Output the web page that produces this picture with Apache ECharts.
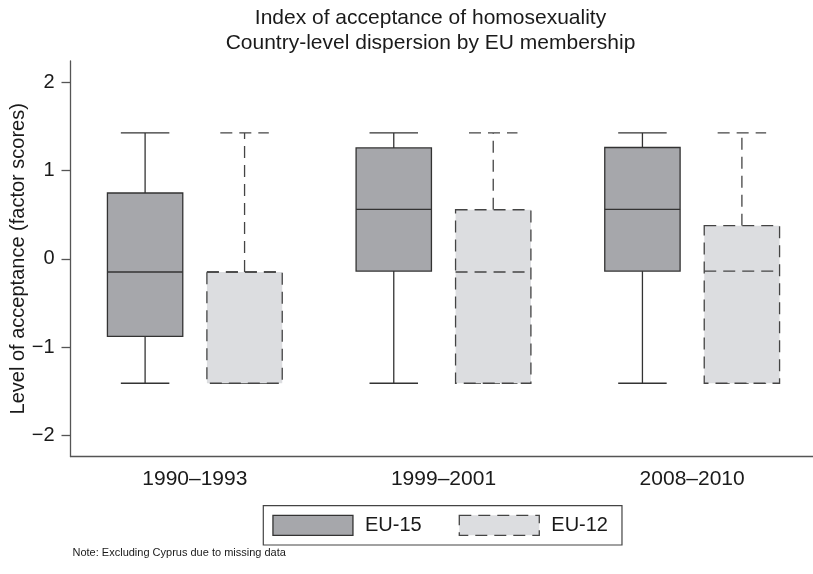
<!DOCTYPE html>
<html>
<head>
<meta charset="utf-8">
<script src="https://cdn.jsdelivr.net/npm/echarts@6/dist/echarts.min.js"></script>
<style>
  html, body { margin: 0; padding: 0; background: #ffffff; }
  #chart { width: 813px; height: 574px; }
</style>
</head>
<body>
<div id="chart"></div>
<script>
// ---- Data ----
const periods = ['1990–1993', '1999–2001', '2008–2010'];
const seriesNames = ['EU-15', 'EU-12'];
// each row: [lower whisker, Q1, median, Q3, upper whisker]
const eu15 = [
  [-1.41, -0.88, -0.15, 0.745, 1.425],
  [-1.41, -0.14, 0.56, 1.255, 1.425],
  [-1.41, -0.14, 0.56, 1.26, 1.425]
];
const eu12 = [
  [-1.41, -1.41, -0.15, -0.15, 1.425],
  [-1.41, -1.41, -0.15, 0.555, 1.425],
  [-1.41, -1.41, -0.14, 0.375, 1.425]
];
const yTicks = [-2, -1, 0, 1, 2];

// ---- Styling constants ----
const FONT = "'Liberation Sans', Arial, Helvetica, sans-serif";
const TEXT = '#1a1a1a';
const AXIS = '#555555';
const BOX_W = 0.303;   // in group units
const CAP_W = 0.195;
const OFFSET = 0.2;
const DASH = [12, 7];

function toData(rows) {
  return rows.map((r, i) => [i + 1].concat(r));
}

function makeRender(offset, fill, stroke, dashed) {
  return function (params, api) {
    const x = api.value(0) + offset;
    const lo = api.coord([x, api.value(1)]);
    const q1 = api.coord([x, api.value(2)]);
    const md = api.coord([x, api.value(3)]);
    const q3 = api.coord([x, api.value(4)]);
    const hi = api.coord([x, api.value(5)]);
    const hw = api.size([BOX_W, 0])[0] / 2;
    const cw = api.size([CAP_W, 0])[0] / 2;
    const cx = lo[0];
    const ls = { stroke: stroke, lineWidth: 1.3, fill: null, lineDash: dashed ? DASH : null };
    const children = [];
    children.push({ type: 'line', shape: { x1: cx, y1: q3[1], x2: cx, y2: hi[1] }, style: ls });
    children.push({ type: 'line', shape: { x1: cx - cw, y1: hi[1], x2: cx + cw, y2: hi[1] }, style: ls });
    children.push({ type: 'line', shape: { x1: cx, y1: q1[1], x2: cx, y2: lo[1] }, style: ls });
    children.push({ type: 'line', shape: { x1: cx - cw, y1: lo[1], x2: cx + cw, y2: lo[1] }, style: ls });
    children.push({
      type: 'rect',
      shape: { x: cx - hw, y: q3[1], width: hw * 2, height: q1[1] - q3[1] },
      style: { fill: fill, stroke: stroke, lineWidth: 1.3, lineDash: dashed ? DASH : null }
    });
    children.push({ type: 'line', shape: { x1: cx - hw, y1: md[1], x2: cx + hw, y2: md[1] }, style: ls });
    return { type: 'group', children: children };
  };
}

const chart = echarts.init(document.getElementById('chart'), null, { renderer: 'canvas' });
const fmtNum = v => String(v).replace('-', '\u2212');

chart.setOption({
  backgroundColor: '#ffffff',
  animation: false,
  textStyle: { fontFamily: FONT },
  title: {
    text: 'Index of acceptance of homosexuality\nCountry-level dispersion by EU membership',
    left: 425.5,
    top: 1,
    textAlign: 'center',
    textStyle: { fontFamily: FONT, fontSize: 21, fontWeight: 'normal', color: TEXT, lineHeight: 25 }
  },
  grid: { left: 70.5, top: 61, width: 746, height: 395.5, containLabel: false, outerBoundsMode: 'none' },
  xAxis: {
    type: 'value',
    min: 0.5,
    max: 3.5,
    axisLine: { show: true, onZero: false, lineStyle: { color: AXIS, width: 1.3 } },
    axisTick: { show: false },
    splitLine: { show: false },
    axisLabel: {
      customValues: [1, 2, 3],
      formatter: v => periods[Math.round(v) - 1],
      fontFamily: FONT, fontSize: 21, color: TEXT, margin: 12.5
    }
  },
  yAxis: {
    type: 'value',
    min: -2.24,
    max: 2.24,
    name: 'Level of acceptance (factor scores)',
    nameLocation: 'middle',
    nameGap: 42,
    nameMoveOverlap: false,
    nameTextStyle: { fontFamily: FONT, fontSize: 20, color: TEXT },
    axisLine: { show: true, onZero: false, lineStyle: { color: AXIS, width: 1.3 } },
    axisTick: { show: true, customValues: yTicks, length: 9, lineStyle: { color: AXIS, width: 1.3 } },
    splitLine: { show: false },
    axisLabel: {
      customValues: yTicks,
      formatter: fmtNum,
      fontFamily: FONT, fontSize: 20, color: TEXT, margin: 16
    }
  },
  legend: {
    left: 263.3,
    top: 505.7,
    orient: 'horizontal',
    icon: 'rect',
    itemWidth: 80,
    itemHeight: 20,
    itemGap: 37,
    padding: [9, 14, 9, 9],
    borderColor: '#444444',
    borderWidth: 1.2,
    selectedMode: false,
    textStyle: { fontFamily: FONT, fontSize: 20, color: TEXT, padding: [0, 0, 0, 7] },
    data: [
      { name: seriesNames[0], itemStyle: { color: '#a6a7ab', borderColor: '#333333', borderWidth: 1.3 } },
      { name: seriesNames[1], itemStyle: { color: '#dcdde0', borderColor: '#444444', borderWidth: 1.3, borderType: DASH } }
    ]
  },
  graphic: [{
    type: 'text',
    left: 72.5,
    top: 547,
    style: { text: 'Note: Excluding Cyprus due to missing data', fontFamily: FONT, fontSize: 11, fill: TEXT }
  }],
  series: [
    {
      name: seriesNames[0],
      type: 'custom',
      itemStyle: { color: '#a6a7ab' },
      renderItem: makeRender(-OFFSET, '#a6a7ab', '#333333', false),
      encode: { x: 0, y: [1, 2, 3, 4, 5] },
      data: toData(eu15)
    },
    {
      name: seriesNames[1],
      type: 'custom',
      itemStyle: { color: '#dcdde0' },
      renderItem: makeRender(OFFSET, '#dcdde0', '#444444', true),
      encode: { x: 0, y: [1, 2, 3, 4, 5] },
      data: toData(eu12)
    }
  ]
});
</script>
</body>
</html>
